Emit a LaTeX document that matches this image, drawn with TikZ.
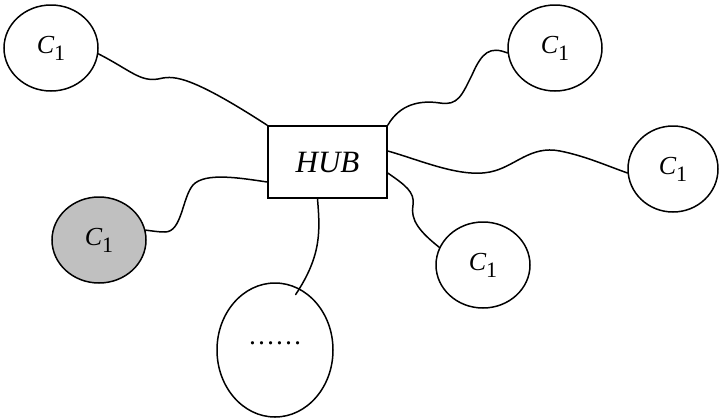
\documentclass[tikz,border=0pt]{standalone}
\usepackage{fontspec}
\setmainfont{Liberation Serif}
\usetikzlibrary{shapes.geometric}
\definecolor{nodegray}{HTML}{C0C0C0}
\newcommand\ConeLabel{{\fontsize{26}{26}\selectfont\itshape C}\raisebox{-7pt}{\fontsize{22}{22}\selectfont 1}}
\tikzset{
  client/.style={ellipse, draw=black, line width=1.5pt, inner sep=0pt,
    minimum width=94pt, minimum height=86pt},
  hubbox/.style={rectangle, draw=black, line width=1.5pt, inner sep=0pt,
    minimum width=119pt, minimum height=72pt},
  wire/.style={line width=1.5pt, line cap=round}
}
\begin{document}
\begin{tikzpicture}[x=1pt, y=-1pt]
\useasboundingbox (0,0) rectangle (720,418);
\node[hubbox] (hub) at (327.5,162) {\fontsize{31}{31}\selectfont\itshape HUB};
\node[client] (tl) at (51,48) {\ConeLabel};
\node[client] (tr) at (555,48) {\ConeLabel};
\node[client, minimum width=90pt] (rt) at (673,169) {\ConeLabel};
\node[client, fill=nodegray] (gr) at (99,240) {\ConeLabel};
\node[client] (lr) at (483,265) {\ConeLabel};
\node[client, minimum width=116pt, minimum height=134pt] (big) at (275,350) {\raisebox{13pt}{\fontsize{27}{27}\selectfont ……}};

\draw[wire] (tl.-7) .. controls (130,70) and (140,82) .. (158,79)
  .. controls (172,76) and (185,72) .. (hub.north west);
\draw[wire] (hub.north east) .. controls (400,104) and (420,100) .. (440,103)
  .. controls (458,106) and (462,95) .. (472,75)
  .. controls (482,52) and (490,46) .. (tr.186);
\draw[wire] ([yshift=11pt]hub.east) .. controls (420,160) and (460,178) .. (490,172)
  .. controls (515,167) and (530,145) .. (560,151)
  .. controls (585,156) and (605,165) .. (rt.185);
\draw[wire] ([yshift=-11pt]hub.east) .. controls (405,185) and (415,192) .. (413,205)
  .. controls (410,220) and (420,232) .. (lr.158);
\draw[wire] ([yshift=-20pt]hub.west) .. controls (240,178) and (205,172) .. (193,185)
  .. controls (182,198) and (182,232) .. (165,232)
  .. controls (158,232) and (153,231) .. (gr.12);
\draw[wire] ([xshift=-10pt]hub.south) .. controls (320,230) and (322,255) .. ([yshift=-8pt]big.72);
\end{tikzpicture}
\end{document}
